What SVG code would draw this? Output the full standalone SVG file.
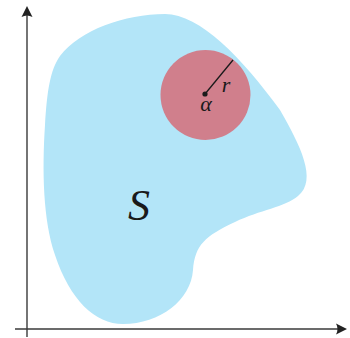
<svg xmlns="http://www.w3.org/2000/svg" width="350" height="338" viewBox="0 0 350 338">
<style>
.axis{stroke:#3a3a3a;stroke-width:1.4;fill:none}
.head{fill:#222}
.math{font-family:"Liberation Serif","DejaVu Serif",serif;font-style:italic;fill:#1a1a1a}
</style>
<rect width="350" height="338" fill="#ffffff"/>
<g id="region-S">
<path d="M 165,14 C 200,14 242,58 280,110 C 300,145 318,180 298,196 C 285,207 260,210 235,222 C 205,236 195,245 193,270 C 191,300 160,324 123,324 C 95,324 70,300 55,255 C 43,220 42,170 45,125 C 47,92 50,70 60,56 C 80,30 125,14 165,14 Z" fill="#b3e5f8"/>
<text class="math" x="139" y="220" font-size="44" text-anchor="middle">S</text>
</g>
<g id="ball">
<circle cx="205.5" cy="95" r="45" fill="#d07f8c"/>
<line x1="205" y1="94" x2="233" y2="60" stroke="#1a1a1a" stroke-width="1.3"/>
<circle cx="205" cy="94" r="2.6" fill="#1a1a1a"/>
<text class="math" x="226" y="92" font-size="22" text-anchor="middle">r</text>
<text class="math" x="206" y="111" font-size="22" text-anchor="middle">α</text>
</g>
<g id="axes">
<line class="axis" x1="27" y1="337" x2="27" y2="12"/>
<path class="head" d="M27,6 L21.5,17 Q27,14 32.5,17 Z"/>
<line class="axis" x1="15" y1="329" x2="341" y2="329"/>
<path class="head" d="M347,329 L336,323.5 Q339,329 336,334.5 Z"/>
</g>
</svg>
